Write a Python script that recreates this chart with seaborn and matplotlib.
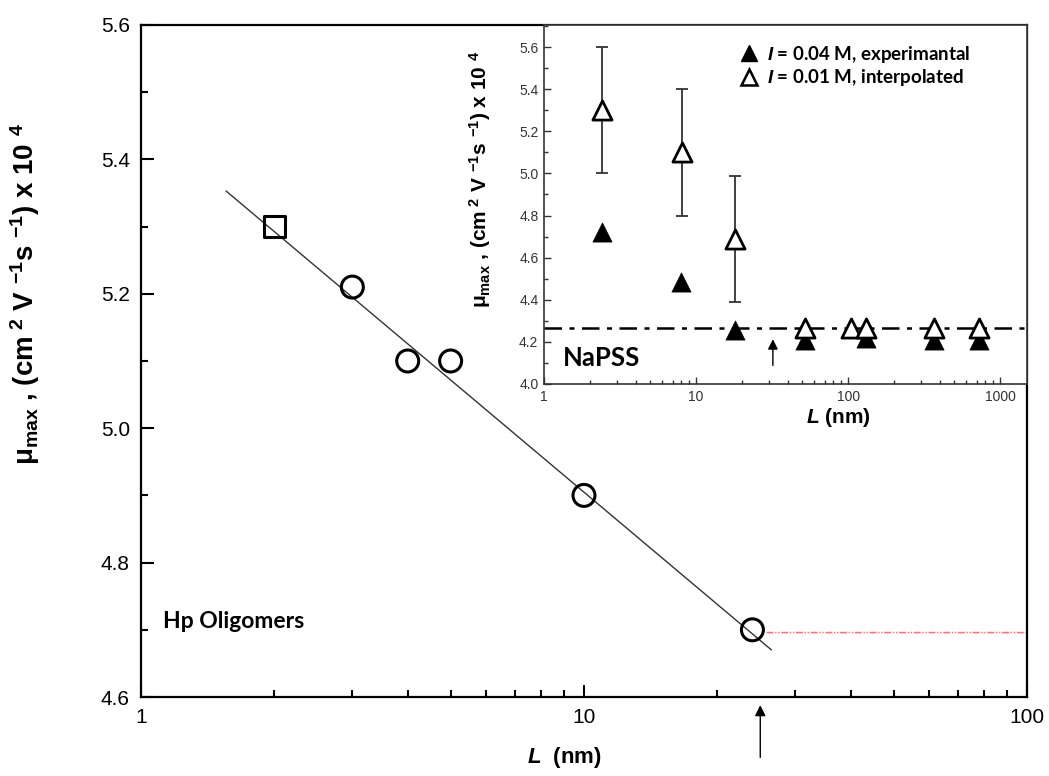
import numpy as np
import pandas as pd
import matplotlib
matplotlib.use("Agg")
import matplotlib.pyplot as plt
from matplotlib.lines import Line2D
from matplotlib.ticker import LogLocator, MultipleLocator, NullFormatter, FixedLocator, FixedFormatter
import seaborn as sns

# ---------------- data ----------------
# main panel: Hp oligomers
hp_sq_L = [2.0]
hp_sq_mu = [5.30]
hp_circ_L = [3.0, 4.0, 5.0, 10.0, 24.0]
hp_circ_mu = [5.21, 5.10, 5.10, 4.90, 4.70]
fit_L = [1.556, 26.5]
fit_mu = [5.353, 4.670]
hp_plateau_L = [25.7, 100.0]
hp_plateau_mu = [4.697, 4.697]
hp_arrow_L = 25.0

# inset: NaPSS
exp_L = [2.4, 8.0, 18.0, 52.0, 131.0, 368.0, 730.0]
exp_mu = [4.72, 4.485, 4.255, 4.21, 4.22, 4.21, 4.21]
int_L = [2.4, 8.1, 18.0, 52.0, 105.0, 131.0, 368.0, 730.0]
int_mu = [5.30, 5.10, 4.69, 4.265, 4.265, 4.265, 4.265, 4.265]
int_err_lo = [0.30, 0.30, 0.30, 0, 0, 0, 0, 0]
int_err_hi = [0.30, 0.30, 0.30, 0, 0, 0, 0, 0]
napss_plateau = 4.265
napss_arrow_L = 32.0

main_xticks = [1, 10, 100]
main_xticklabels = ["1", "10", "100"]
inset_xticks = [1, 10, 100, 1000]
inset_xticklabels = ["1", "10", "100", "1000"]

# ---------------- style ----------------
sns.set_style("ticks")
plt.rcParams["font.family"] = ["Liberation Sans", "DejaVu Sans"]
plt.rcParams["text.color"] = "black"
plt.rcParams["axes.labelcolor"] = "black"
plt.rcParams["mathtext.fontset"] = "custom"
plt.rcParams["mathtext.rm"] = "Liberation Sans:bold"
plt.rcParams["mathtext.bf"] = "Liberation Sans:bold"
plt.rcParams["mathtext.it"] = "Liberation Sans:bold:italic"
plt.rcParams["mathtext.default"] = "rm"

fig = plt.figure(figsize=(10.49, 7.76), dpi=100)
ax = fig.add_axes([0.1344, 0.1018, 0.8446, 0.866])

# main panel
sns.lineplot(x=fit_L, y=fit_mu, ax=ax, color="#333333", lw=1.0, zorder=2)
sns.lineplot(x=hp_plateau_L, y=hp_plateau_mu, ax=ax, color="#ff6f6f", lw=1.0, zorder=2)
ax.lines[-1].set_linestyle((0, (5, 1.2, 1, 1.2, 1, 1.2)))
sns.scatterplot(x=hp_sq_L, y=hp_sq_mu, ax=ax, marker="s", s=230,
                facecolors="none", edgecolors="black", linewidths=2.2, zorder=3)
sns.scatterplot(x=hp_circ_L, y=hp_circ_mu, ax=ax, marker="o", s=250,
                facecolors="none", edgecolors="black", linewidths=2.2, zorder=3)

ax.set_xscale("log")
ax.set_xlim(1, 100)
ax.set_ylim(4.6, 5.6)
ax.xaxis.set_major_locator(FixedLocator(main_xticks))
ax.xaxis.set_major_formatter(FixedFormatter(main_xticklabels))
ax.xaxis.set_minor_locator(LogLocator(base=10, subs=np.arange(2, 10)))
ax.xaxis.set_minor_formatter(NullFormatter())
ax.yaxis.set_major_locator(MultipleLocator(0.2))
ax.yaxis.set_minor_locator(MultipleLocator(0.1))
ax.yaxis.set_major_formatter(plt.FuncFormatter(lambda v, p: f"{v:.1f}"))
ax.tick_params(which="both", direction="in", top=False, right=False, width=1.5, colors="black")
ax.tick_params(which="major", length=9, labelsize=15, pad=8)
ax.tick_params(which="minor", length=5)
for sp in ax.spines.values():
    sp.set_linewidth(1.6)
    sp.set_color("black")

ylab = "μ$_{max}$ , (cm$^{\\ 2}$ V $^{-1}$s $^{-1}$) x 10 $^{4}$"
ax.set_ylabel(ylab, fontsize=20, fontweight="bold")
ax.yaxis.set_label_coords(-0.112, 0.60)
ax.set_xlabel("$\\mathit{L}$  (nm)", fontsize=16, fontweight="bold")
ax.xaxis.set_label_coords(0.478, -0.072)

ax.text(0.025, 0.113, "Hp Oligomers", transform=ax.transAxes, fontsize=16.5,
        fontweight="bold", family=["Lato", "DejaVu Sans"], va="center", ha="left",
        color="black")

ax.annotate("", xy=(hp_arrow_L, -0.008), xytext=(hp_arrow_L, -0.094),
            xycoords=("data", "axes fraction"), textcoords=("data", "axes fraction"),
            arrowprops=dict(arrowstyle="-|>", color="black", lw=1.0, mutation_scale=16),
            annotation_clip=False)

# ---------------- inset ----------------
ax2 = fig.add_axes([0.5186, 0.5052, 0.4604, 0.4626])
ax2.set_facecolor("white")
ax2.axhline(napss_plateau, color="black", lw=1.8, dashes=(7, 3, 2, 3), zorder=1)
ax2.errorbar(int_L, int_mu, yerr=[int_err_lo, int_err_hi], fmt="none",
             ecolor="#333333", elinewidth=1.3, capsize=4.5, capthick=1.3, zorder=2)
sns.scatterplot(x=int_L, y=int_mu, ax=ax2, marker="^", s=190,
                facecolors="white", edgecolors="black", linewidths=2.0, zorder=4)
sns.scatterplot(x=exp_L, y=exp_mu, ax=ax2, marker="^", s=190,
                color="black", edgecolor="black", linewidth=0.5, zorder=3)

ax2.set_xscale("log")
ax2.set_xlim(1, 1500)
ax2.set_ylim(4.0, 5.705)
ax2.xaxis.set_major_locator(FixedLocator(inset_xticks))
ax2.xaxis.set_major_formatter(FixedFormatter(inset_xticklabels))
ax2.xaxis.set_minor_locator(LogLocator(base=10, subs=np.arange(2, 10)))
ax2.xaxis.set_minor_formatter(NullFormatter())
ax2.yaxis.set_major_locator(MultipleLocator(0.2))
ax2.yaxis.set_minor_locator(MultipleLocator(0.1))
ax2.yaxis.set_major_formatter(plt.FuncFormatter(lambda v, p: f"{v:.1f}"))
ax2.tick_params(which="both", direction="in", top=False, right=False, width=1.0,
                color="#333333", labelcolor="#333333")
ax2.tick_params(which="major", length=5, labelsize=10, pad=4)
ax2.tick_params(which="minor", length=3)
for lab in ax2.get_xticklabels() + ax2.get_yticklabels():
    lab.set_family(["Liberation Sans Narrow", "Liberation Sans"])
for sp in ax2.spines.values():
    sp.set_linewidth(1.2)
    sp.set_color("#333333")

ax2.set_ylabel(ylab, fontsize=15, fontweight="bold")
ax2.yaxis.set_label_coords(-0.105, 0.57)
ax2.set_xlabel("$\\mathit{L}$ (nm)", fontsize=15, fontweight="bold")
ax2.xaxis.set_label_coords(0.609, -0.062)

ax2.text(0.04, 0.072, "NaPSS", transform=ax2.transAxes, fontsize=18.5,
         fontweight="bold", family=["Lato", "DejaVu Sans"], va="center", ha="left",
         color="black")

ax2.annotate("", xy=(napss_arrow_L, 4.226), xytext=(napss_arrow_L, 4.075),
             arrowprops=dict(arrowstyle="-|>", color="black", lw=1.0, mutation_scale=15))

handles = [
    Line2D([], [], marker="^", ls="none", color="black", markersize=11),
    Line2D([], [], marker="^", ls="none", markerfacecolor="white",
           markeredgecolor="black", markeredgewidth=1.8, markersize=11),
]
labels = ["$\\mathit{I}$ = 0.04 M, experimantal", "$\\mathit{I}$ = 0.01 M, interpolated"]
leg = ax2.legend(handles, labels, loc="upper left", bbox_to_anchor=(0.37, 0.995),
                 frameon=False, handlelength=1.0, handletextpad=0.45, labelspacing=0.15,
                 prop={"family": ["Lato", "DejaVu Sans"], "weight": "bold", "size": 13.5})
for t in leg.get_texts():
    t.set_color("black")

fig.savefig("out.png", dpi=100)
